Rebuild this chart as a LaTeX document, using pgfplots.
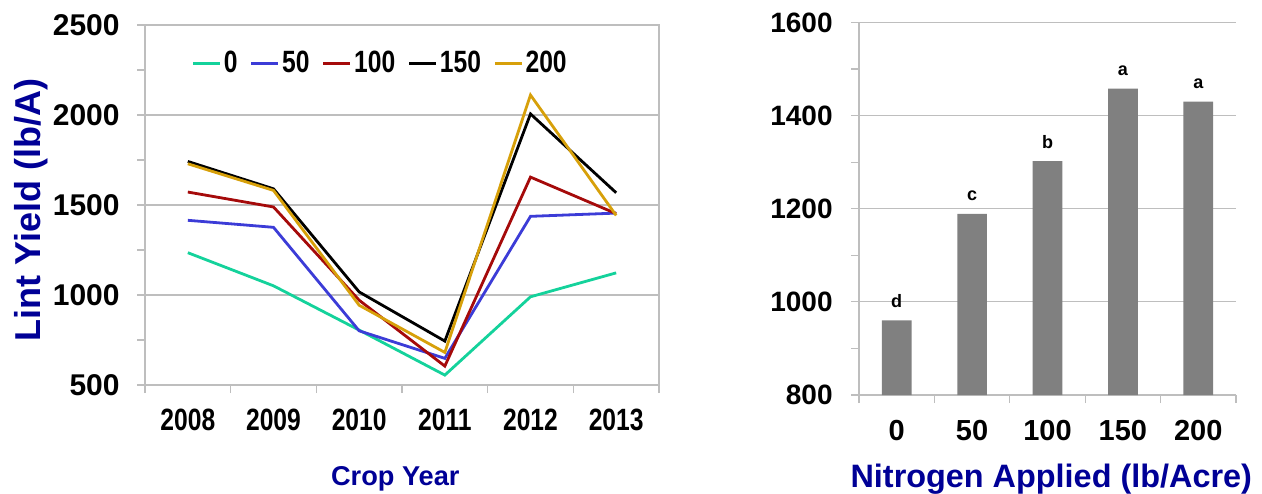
\documentclass[border=0pt]{standalone}
\usepackage{pgfplots}
\pgfplotsset{compat=1.18}
\usepackage{fontspec}
\setmainfont{Liberation Sans}
\newfontfamily\narrowfont[FakeStretch=0.8]{Liberation Sans}
\definecolor{cteal}{RGB}{20,210,155}
\definecolor{cblue}{RGB}{60,60,215}
\definecolor{cred}{RGB}{165,10,10}
\definecolor{cgold}{RGB}{215,160,10}
\definecolor{navy}{RGB}{0,0,150}
\definecolor{gridgray}{RGB}{190,190,190}
\definecolor{bargray}{RGB}{128,128,128}

\pgfplotstableread{
x y0 y50 y100 y150 y200
0 1235 1415 1572 1742 1729
1 1051 1376 1489 1590 1581
2 805 801 971 1017 943
3 555 648 605 744 681
4 990 1437 1655 2006 2111
5 1123 1455 1452 1568 1442
}\yearly

\pgfplotstableread{
x y lab
0 960 d
1 1189 c
2 1302 b
3 1458 a
4 1430 a
}\nitro

\begin{document}
\begin{tikzpicture}
\useasboundingbox (0,0) rectangle (631pt,246.5pt);
\pgfplotsset{
  every axis/.append style={
    scale only axis,
    /pgf/number format/assume math mode=true,
    /pgf/number format/1000 sep={},
    axis line style={draw=gridgray, line width=0.6pt},
    tick style={draw=gridgray, line width=0.6pt},
    major grid style={draw=gridgray, line width=0.6pt},
    tick align=outside,
    major tick length=4pt,
    minor tick length=4pt,
    ymajorgrids=true,
  }
}
\begin{axis}[
  at={(72.5pt,54pt)}, anchor=south west,
  width=257pt, height=180pt,
  xmin=-0.5, xmax=5.5, ymin=500, ymax=2500,
  tick pos=left,
  ytick={500,1000,...,2500}, minor y tick num=1,
  xtick={-0.5,0.5,...,5.5}, xticklabels={},
  extra x ticks={0,1,2,3,4,5},
  extra x tick labels={2008,2009,2010,2011,2012,2013},
  extra x tick style={major tick length=0pt,
    xticklabel style={font=\narrowfont\bfseries\fontsize{15.4}{18}\selectfont, anchor=base, yshift=-22.8pt}},
  yticklabel style={font=\bfseries\fontsize{15}{17}\selectfont, anchor=east, inner sep=0pt, xshift=-8.5pt},
  xlabel={Crop Year},
  ylabel={Lint Yield (lb/A)},
  every axis x label/.style={at={(axis description cs:0.487,-0.278)}, anchor=base,
    font=\bfseries\fontsize{13.6}{17}\selectfont, text=navy},
  every axis y label/.style={at={(axis description cs:-0.222,0.486)}, anchor=center, rotate=90,
    font=\bfseries\fontsize{18}{21}\selectfont, text=navy},
  legend style={at={(axis description cs:0.09,0.894)}, anchor=west, draw=none, fill=none,
    legend columns=5, inner sep=0pt,
    nodes={inner sep=1.2pt},
    font=\narrowfont\bfseries\fontsize{15.4}{18}\selectfont,
    /tikz/every even column/.append style={column sep=5pt}},
  legend image code/.code={\draw[#1] (0pt,0pt) -- (13.5pt,0pt);},
]
\addplot[cteal, line width=1.4pt] table[x=x, y=y0] {\yearly};
\addlegendentry{0}
\addplot[cblue, line width=1.4pt] table[x=x, y=y50] {\yearly};
\addlegendentry{50}
\addplot[cred, line width=1.4pt] table[x=x, y=y100] {\yearly};
\addlegendentry{100}
\addplot[black, line width=1.4pt] table[x=x, y=y150] {\yearly};
\addlegendentry{150}
\addplot[cgold, line width=1.4pt] table[x=x, y=y200] {\yearly};
\addlegendentry{200}
\end{axis}

\begin{axis}[
  at={(429.5pt,49pt)}, anchor=south west,
  width=188.5pt, height=186.3pt,
  axis x line*=bottom, axis y line*=left,
  tick align=outside,
  xmin=-0.5, xmax=4.5, ymin=800, ymax=1600,
  ytick={800,1000,...,1600}, minor y tick num=1,
  xtick={-0.5,0.5,...,4.5}, xticklabels={},
  extra x ticks={0,1,2,3,4},
  extra x tick labels={0,50,100,150,200},
  extra x tick style={major tick length=0pt,
    xticklabel style={font=\bfseries\fontsize{14.5}{17}\selectfont, anchor=base, yshift=-22.5pt}},
  yticklabel style={font=\bfseries\fontsize{14}{17}\selectfont, anchor=east, inner sep=0pt, xshift=-9pt},
  xlabel={Nitrogen Applied (lb/Acre)},
  every axis x label/.style={at={(axis description cs:0.51,-0.247)}, anchor=base,
    font=\bfseries\fontsize{16.2}{19}\selectfont, text=navy},
]
\addplot[ybar, bar width=14.85pt, fill=bargray, draw=none,
  nodes near coords, point meta=explicit symbolic,
  every node near coord/.style={anchor=base, yshift=6.5pt, inner sep=0pt,
    font=\bfseries\fontsize{9}{11}\selectfont, text=black}]
  table[x=x, y=y, meta=lab] {\nitro};
\end{axis}
\end{tikzpicture}
\end{document}
